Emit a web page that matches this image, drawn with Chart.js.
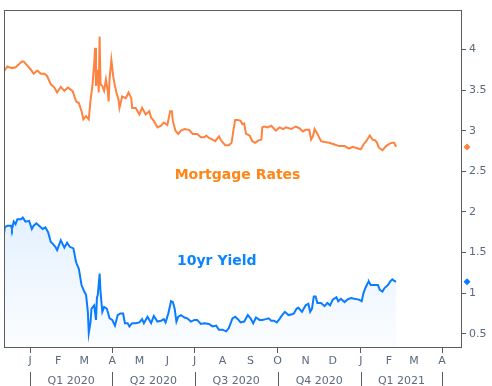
<!DOCTYPE html>
<html>
<head>
<meta charset="utf-8">
<script src="https://cdn.jsdelivr.net/npm/chart.js@4.4.0/dist/chart.umd.min.js"></script>
<style>
  html, body { margin: 0; padding: 0; background: #fff; }
  #wrap { width: 492px; height: 386px; }
</style>
</head>
<body>
<div id="wrap"><canvas id="rates" width="492" height="386"></canvas></div>
<script>
// x values are days counted from 2020-01-01
var mortgageDays = [
  -29, -25, -23, -20, -16, -12, -9, -7, -3, 1,
  4, 8, 12, 16, 19, 23, 27, 30, 34, 38,
  42, 47, 51, 54, 57, 59, 62, 65, 67, 69,
  71, 72, 73, 75, 76, 77, 78, 80, 82, 84,
  86, 87, 88, 90, 92, 94, 96, 98, 99, 102,
  106, 109, 112, 113, 117, 121, 124, 128, 132, 134,
  137, 141, 145, 148, 152, 155, 157, 158, 161, 164,
  167, 171, 176, 180, 185, 189, 193, 195, 198, 202,
  205, 209, 212, 216, 220, 223, 225, 227, 230, 233,
  235, 237, 239, 243, 246, 249, 253, 256, 257, 259,
  263, 267, 272, 276, 280, 283, 289, 294, 298, 302,
  305, 309, 311, 313, 315, 318, 322, 326, 331, 337,
  342, 348, 353, 357, 363, 366, 369, 372, 376, 379,
  382, 384, 386, 390, 394, 398, 401, 403, 405
];
var mortgageRates = [
  3.73, 3.79, 3.78, 3.77, 3.78, 3.82, 3.85, 3.85, 3.80, 3.75,
  3.70, 3.74, 3.70, 3.70, 3.67, 3.57, 3.53, 3.47, 3.54, 3.49,
  3.53, 3.49, 3.36, 3.34, 3.24, 3.14, 3.18, 3.14, 3.38, 3.55,
  3.83, 4.02, 3.55, 3.75, 3.47, 4.16, 3.57, 3.55, 3.49, 3.63,
  3.49, 3.36, 3.63, 3.87, 3.67, 3.55, 3.45, 3.38, 3.28, 3.42,
  3.40, 3.47, 3.40, 3.28, 3.28, 3.20, 3.28, 3.20, 3.24, 3.16,
  3.12, 3.04, 3.06, 3.10, 3.07, 3.24, 3.24, 3.12, 3.00, 2.96,
  3.00, 3.02, 3.01, 2.96, 2.96, 2.92, 2.92, 2.94, 2.91, 2.89,
  2.87, 2.93, 2.87, 2.82, 2.82, 2.85, 3.00, 3.13, 3.13, 3.12,
  3.08, 3.09, 2.96, 2.94, 2.87, 2.85, 2.88, 2.89, 3.04, 3.05,
  3.04, 3.06, 3.00, 3.04, 3.02, 3.04, 3.02, 3.05, 3.03, 2.99,
  3.01, 3.01, 2.89, 2.93, 3.02, 2.96, 2.87, 2.86, 2.85, 2.83,
  2.81, 2.81, 2.78, 2.80, 2.78, 2.77, 2.83, 2.87, 2.94, 2.89,
  2.88, 2.85, 2.79, 2.76, 2.81, 2.84, 2.85, 2.85, 2.80
];
var yieldDays = [
  -29, -28, -25, -21, -20, -18, -16, -14, -10, -8,
  -5, -1, 2, 4, 7, 10, 14, 17, 20, 23,
  25, 28, 30, 34, 38, 41, 44, 48, 51, 54,
  57, 60, 62, 64, 65, 67, 68, 71, 73, 74,
  75, 77, 78, 80, 82, 85, 88, 91, 94, 97,
  100, 103, 105, 108, 110, 113, 117, 121, 124, 126,
  130, 134, 137, 141, 145, 148, 150, 153, 156, 158,
  160, 162, 164, 167, 171, 174, 178, 182, 185, 189,
  193, 198, 202, 206, 209, 213, 217, 220, 224, 227,
  230, 233, 237, 241, 244, 247, 250, 254, 257, 261,
  264, 267, 270, 273, 276, 279, 282, 286, 290, 292,
  295, 297, 301, 305, 308, 310, 312, 314, 316, 318,
  322, 326, 329, 332, 335, 339, 341, 344, 348, 351,
  355, 359, 364, 367, 369, 371, 374, 375, 377, 381,
  385, 387, 390, 392, 396, 399, 401, 403, 405
];
var yieldRates = [
  1.71, 1.81, 1.83, 1.83, 1.79, 1.88, 1.85, 1.91, 1.91, 1.93,
  1.88, 1.89, 1.79, 1.83, 1.86, 1.83, 1.79, 1.81, 1.75, 1.63,
  1.61, 1.57, 1.53, 1.65, 1.56, 1.62, 1.57, 1.55, 1.38, 1.30,
  1.10, 1.02, 0.98, 0.77, 0.51, 0.65, 0.81, 0.85, 0.67, 0.94,
  0.98, 1.24, 1.02, 0.77, 0.83, 0.81, 0.69, 0.67, 0.60, 0.73,
  0.75, 0.75, 0.63, 0.63, 0.59, 0.63, 0.63, 0.64, 0.68, 0.63,
  0.71, 0.63, 0.72, 0.65, 0.66, 0.68, 0.64, 0.75, 0.90, 0.89,
  0.81, 0.65, 0.71, 0.73, 0.70, 0.69, 0.65, 0.67, 0.67, 0.62,
  0.63, 0.62, 0.59, 0.60, 0.55, 0.55, 0.53, 0.57, 0.69, 0.71,
  0.68, 0.64, 0.65, 0.73, 0.69, 0.63, 0.70, 0.67, 0.67, 0.68,
  0.69, 0.66, 0.66, 0.64, 0.68, 0.73, 0.77, 0.73, 0.74, 0.75,
  0.81, 0.82, 0.77, 0.85, 0.87, 0.77, 0.81, 0.96, 0.96, 0.88,
  0.88, 0.84, 0.88, 0.85, 0.92, 0.95, 0.90, 0.93, 0.89, 0.92,
  0.94, 0.93, 0.92, 0.90, 1.00, 1.06, 1.13, 1.14, 1.10, 1.10,
  1.10, 1.04, 1.02, 1.06, 1.10, 1.15, 1.17, 1.15, 1.14
];

var monthStarts = [0, 31, 60, 91, 121, 152, 182, 213, 244, 274, 305, 335, 366, 397, 425, 456];
var monthLabels = ['J', 'F', 'M', 'A', 'M', 'J', 'J', 'A', 'S', 'O', 'N', 'D', 'J', 'F', 'M', 'A'];
var quarterStarts = [0, 91, 182, 274, 366, 456];
var quarterLabels = ['Q1 2020', 'Q2 2020', 'Q3 2020', 'Q4 2020', 'Q1 2021'];
var yTicks = [0.5, 1, 1.5, 2, 2.5, 3, 3.5, 4];
var seriesNames = ['Mortgage Rates', '10yr Yield'];

var ORANGE = '#ff8340';
var BLUE = '#0a7cff';
var AXIS = '#5c5c5c';
var TEXT = '#5b6a7c';
var FONT = 'DejaVu Sans';

function toPoints(days, values) {
  return days.map(function (d, i) { return { x: d, y: values[i] }; });
}

// box around the plot area
var framePlugin = {
  id: 'frame',
  afterDraw: function (chart) {
    var a = chart.chartArea, ctx = chart.ctx;
    ctx.save();
    ctx.strokeStyle = AXIS;
    ctx.lineWidth = 1;
    ctx.strokeRect(Math.round(a.left) + 0.5, Math.round(a.top) + 0.5,
      Math.round(a.right - a.left) - 1, Math.round(a.bottom - a.top));
    ctx.restore();
  }
};

// second row of the x axis: quarters
var quarterPlugin = {
  id: 'quarters',
  afterDraw: function (chart) {
    var x = chart.scales.x, a = chart.chartArea, ctx = chart.ctx;
    ctx.save();
    ctx.strokeStyle = AXIS;
    ctx.lineWidth = 1;
    quarterStarts.forEach(function (q) {
      var px = Math.round(x.getPixelForValue(q)) + 0.5;
      ctx.beginPath();
      ctx.moveTo(px, a.bottom + 25);
      ctx.lineTo(px, chart.height);
      ctx.stroke();
    });
    ctx.fillStyle = TEXT;
    ctx.font = '11px "' + FONT + '"';
    ctx.textAlign = 'center';
    ctx.textBaseline = 'alphabetic';
    quarterLabels.forEach(function (lbl, i) {
      var mid = (x.getPixelForValue(quarterStarts[i]) + x.getPixelForValue(quarterStarts[i + 1])) / 2;
      ctx.fillText(lbl, mid, a.bottom + 36.5);
    });
    ctx.restore();
  }
};

// series names written inside the plot
var namePlugin = {
  id: 'names',
  afterDatasetsDraw: function (chart) {
    var x = chart.scales.x, y = chart.scales.y, ctx = chart.ctx;
    ctx.save();
    ctx.font = 'bold 14px "' + FONT + '"';
    ctx.textAlign = 'center';
    ctx.textBaseline = 'alphabetic';
    ctx.fillStyle = '#ff8517';
    ctx.fillText(seriesNames[0], x.getPixelForValue(229.6), y.getPixelForValue(2.411));
    ctx.fillStyle = '#0a84ff';
    ctx.fillText(seriesNames[1], x.getPixelForValue(206.7), y.getPixelForValue(1.351));
    ctx.restore();
  }
};

// diamonds on the right axis at the latest value
var endMarkPlugin = {
  id: 'endMarks',
  afterDraw: function (chart) {
    var y = chart.scales.y, a = chart.chartArea, ctx = chart.ctx;
    ctx.save();
    chart.data.datasets.forEach(function (ds) {
      var last = ds.data[ds.data.length - 1].y;
      var cx = a.right + 5, cy = y.getPixelForValue(last), r = 3.5;
      ctx.fillStyle = ds.borderColor;
      ctx.beginPath();
      ctx.moveTo(cx, cy - r);
      ctx.lineTo(cx + r, cy);
      ctx.lineTo(cx, cy + r);
      ctx.lineTo(cx - r, cy);
      ctx.closePath();
      ctx.fill();
    });
    ctx.restore();
  }
};

function yieldFill(context) {
  var chart = context.chart, a = chart.chartArea;
  if (!a) return 'rgba(10,124,255,0.06)';
  var g = chart.ctx.createLinearGradient(0, chart.scales.y.getPixelForValue(1.95), 0, a.bottom);
  g.addColorStop(0, 'rgba(10,124,255,0.11)');
  g.addColorStop(1, 'rgba(10,124,255,0.015)');
  return g;
}

var chart = new Chart(document.getElementById('rates'), {
  type: 'line',
  data: {
    datasets: [{
      label: seriesNames[0],
      data: toPoints(mortgageDays, mortgageRates),
      borderColor: ORANGE,
      borderWidth: 2,
      pointRadius: 0,
      tension: 0,
      fill: false
    }, {
      label: seriesNames[1],
      data: toPoints(yieldDays, yieldRates),
      borderColor: BLUE,
      borderWidth: 2,
      pointRadius: 0,
      tension: 0,
      fill: 'start',
      backgroundColor: yieldFill
    }]
  },
  options: {
    responsive: false,
    animation: false,
    devicePixelRatio: 1,
    layout: { padding: { left: 4, top: 8, right: 0, bottom: 0 } },
    plugins: { legend: { display: false }, tooltip: { enabled: false } },
    scales: {
      x: {
        type: 'linear',
        min: -28.8,
        max: 478,
        afterBuildTicks: function (s) { s.ticks = monthStarts.map(function (v) { return { value: v }; }); },
        afterFit: function (s) { s.height = 39; },
        ticks: {
          autoSkip: false,
          maxRotation: 0,
          padding: 2,
          color: TEXT,
          font: { family: FONT, size: 11 },
          callback: function (v, i) { return monthLabels[i]; }
        },
        grid: {
          drawOnChartArea: false,
          tickLength: 6,
          color: function (ctx) {
            return ctx.tick && quarterStarts.indexOf(ctx.tick.value) >= 0 ? AXIS : 'rgba(0,0,0,0)';
          }
        },
        border: { display: false }
      },
      y: {
        position: 'right',
        min: 0.337,
        max: 4.49,
        afterBuildTicks: function (s) { s.ticks = yTicks.map(function (v) { return { value: v }; }); },
        afterFit: function (s) { s.width = 30; },
        ticks: {
          padding: 3,
          color: TEXT,
          font: { family: FONT, size: 11 },
          callback: function (v) { return String(v); }
        },
        grid: { drawOnChartArea: false, tickLength: 4, color: AXIS },
        border: { display: false }
      }
    }
  },
  plugins: [framePlugin, quarterPlugin, namePlugin, endMarkPlugin]
});
</script>
</body>
</html>
